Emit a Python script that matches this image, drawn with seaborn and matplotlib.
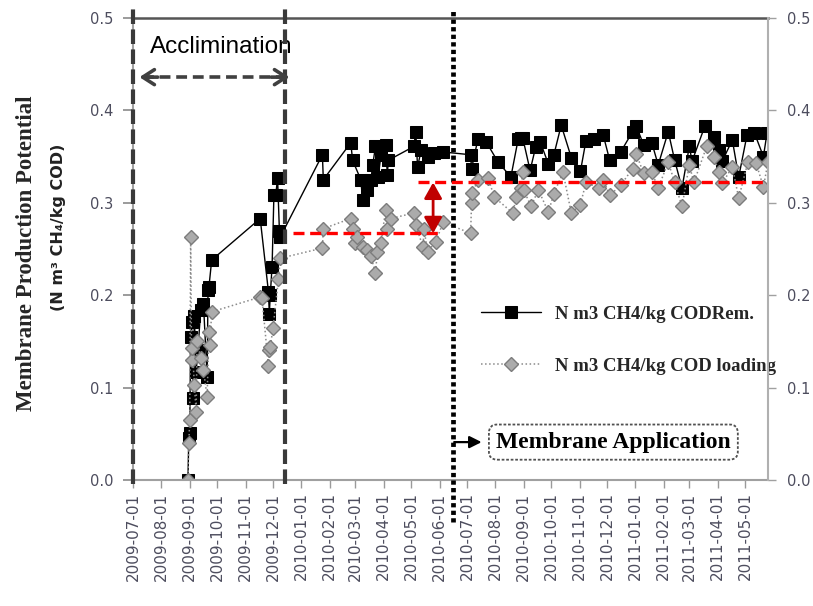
import matplotlib
matplotlib.use("Agg")
import matplotlib.pyplot as plt
import matplotlib.dates as mdates
import matplotlib.ticker as mticker
import pandas as pd
import seaborn as sns

# N m3 CH4 / kg COD removed (black squares)
rem_dates = [
    "2009-08-30", "2009-08-31", "2009-09-01", "2009-09-02", "2009-09-03", "2009-09-05",
    "2009-09-06", "2009-09-08", "2009-09-10", "2009-09-13", "2009-09-16", "2009-09-20",
    "2009-09-21", "2009-09-22", "2009-09-25", "2009-11-17", "2009-11-26", "2009-11-27",
    "2009-11-28", "2009-11-30", "2009-12-02", "2009-12-04", "2009-12-06", "2009-12-08",
    "2009-12-09", "2010-01-24", "2010-01-25", "2010-02-24", "2010-02-26", "2010-03-07",
    "2010-03-09", "2010-03-14", "2010-03-18", "2010-03-20", "2010-03-23", "2010-03-26",
    "2010-03-29", "2010-04-03", "2010-04-05", "2010-04-06", "2010-05-04", "2010-05-06",
    "2010-05-08", "2010-05-12", "2010-05-19", "2010-05-26", "2010-06-05", "2010-07-05",
    "2010-07-06", "2010-07-13", "2010-07-22", "2010-08-04", "2010-08-18", "2010-08-26",
    "2010-08-29", "2010-08-31", "2010-09-08", "2010-09-14", "2010-09-19", "2010-09-28",
    "2010-10-04", "2010-10-12", "2010-10-23", "2010-11-02", "2010-11-08", "2010-11-17",
    "2010-11-27", "2010-12-04", "2010-12-16", "2010-12-29", "2011-01-02", "2011-01-10",
    "2011-01-19", "2011-01-26", "2011-02-06", "2011-02-13", "2011-02-21", "2011-03-01",
    "2011-03-04", "2011-03-18", "2011-03-28", "2011-04-02", "2011-04-06", "2011-04-17",
    "2011-04-24", "2011-05-03", "2011-05-11", "2011-05-21", "2011-05-25",
]
rem_values = [
    0.000, 0.045, 0.051, 0.155, 0.171, 0.089,
    0.178, 0.117, 0.141, 0.184, 0.191, 0.112,
    0.206, 0.209, 0.238, 0.283, 0.204, 0.180,
    0.200, 0.231, 0.308, 0.308, 0.327, 0.270,
    0.263, 0.352, 0.325, 0.365, 0.346, 0.325,
    0.303, 0.314, 0.325, 0.341, 0.361, 0.328,
    0.352, 0.363, 0.330, 0.346, 0.361, 0.377,
    0.339, 0.357, 0.350, 0.354, 0.355, 0.352,
    0.337, 0.369, 0.366, 0.344, 0.328, 0.369,
    0.370, 0.370, 0.335, 0.360, 0.366, 0.342,
    0.352, 0.384, 0.349, 0.334, 0.367, 0.369,
    0.373, 0.346, 0.355, 0.377, 0.383, 0.363,
    0.365, 0.341, 0.377, 0.346, 0.316, 0.361,
    0.345, 0.383, 0.371, 0.357, 0.345, 0.368,
    0.328, 0.373, 0.376, 0.350, 0.376,
]

# N m3 CH4 / kg COD loading (grey diamonds)
load_dates = [
    "2009-08-30", "2009-08-31", "2009-09-01", "2009-09-02", "2009-09-03", "2009-09-04",
    "2009-09-06", "2009-09-08", "2009-09-09", "2009-09-13", "2009-09-16", "2009-09-20",
    "2009-09-22", "2009-09-23", "2009-09-25", "2009-11-17", "2009-11-19", "2009-11-26",
    "2009-11-27", "2009-11-28", "2009-12-01", "2009-12-07", "2009-12-09", "2010-01-24",
    "2010-01-25", "2010-02-24", "2010-02-26", "2010-03-01", "2010-03-03", "2010-03-09",
    "2010-03-14", "2010-03-18", "2010-03-23", "2010-03-25", "2010-03-29", "2010-04-03",
    "2010-04-05", "2010-04-09", "2010-05-04", "2010-05-06", "2010-05-14", "2010-05-15",
    "2010-05-19", "2010-05-28", "2010-06-05", "2010-07-05", "2010-07-06", "2010-07-07",
    "2010-07-13", "2010-07-24", "2010-07-31", "2010-08-20", "2010-08-24", "2010-08-29",
    "2010-08-31", "2010-09-01", "2010-09-09", "2010-09-17", "2010-09-28", "2010-10-04",
    "2010-10-14", "2010-10-23", "2010-11-02", "2010-11-08", "2010-11-22", "2010-11-27",
    "2010-12-04", "2010-12-16", "2010-12-29", "2011-01-02", "2011-01-10", "2011-01-19",
    "2011-01-26", "2011-02-06", "2011-02-13", "2011-02-21", "2011-03-01", "2011-03-06",
    "2011-03-20", "2011-03-28", "2011-04-02", "2011-04-06", "2011-04-17", "2011-04-24",
    "2011-05-04", "2011-05-13", "2011-05-21", "2011-05-26",
]
load_values = [
    0.000, 0.040, 0.065, 0.263, 0.130, 0.143,
    0.103, 0.074, 0.150, 0.132, 0.119, 0.090,
    0.160, 0.146, 0.182, 0.198, 0.197, 0.123,
    0.141, 0.144, 0.164, 0.218, 0.240, 0.251,
    0.272, 0.283, 0.272, 0.256, 0.263, 0.252,
    0.249, 0.242, 0.224, 0.247, 0.256, 0.292,
    0.272, 0.283, 0.289, 0.276, 0.252, 0.272,
    0.247, 0.258, 0.279, 0.267, 0.300, 0.311,
    0.325, 0.327, 0.306, 0.289, 0.306, 0.316,
    0.333, 0.314, 0.296, 0.314, 0.290, 0.310,
    0.333, 0.289, 0.298, 0.322, 0.316, 0.325,
    0.308, 0.319, 0.337, 0.353, 0.332, 0.333,
    0.316, 0.344, 0.322, 0.296, 0.341, 0.322,
    0.361, 0.350, 0.333, 0.321, 0.339, 0.305,
    0.344, 0.343, 0.317, 0.344,
]

rem_label = "N m3 CH4/kg CODRem."
load_label = "N m3 CH4/kg COD loading"
y_ticks = [0.0, 0.1, 0.2, 0.3, 0.4, 0.5]

# reference lines / annotations (dates and levels)
x_start, x_end = "2009-07-01", "2011-05-26"
acclim_start, acclim_end = "2009-07-01", "2009-12-14"
membrane_date = "2010-06-16"
before_level, after_level = 0.267, 0.322

d = pd.to_datetime
rem = pd.DataFrame({"date": d(rem_dates), "value": rem_values})
load = pd.DataFrame({"date": d(load_dates), "value": load_values})

sns.set_theme(style="white")
plt.rcParams["font.family"] = ["DejaVu Sans"]

fig = plt.figure(figsize=(8.13, 6.06), dpi=100)
ax = fig.add_axes([133 / 813, 126 / 606, 635 / 813, 462 / 606])

sns.lineplot(data=rem, x="date", y="value", ax=ax, estimator=None, sort=False,
             color="black", lw=1.0, marker="s", markersize=8.8,
             markerfacecolor="black", markeredgecolor="black", label=rem_label)
sns.lineplot(data=load, x="date", y="value", ax=ax, estimator=None, sort=False,
             color="#8a8a8a", lw=1.1, linestyle=":", marker="D", markersize=7.5,
             markerfacecolor="#ababab", markeredgecolor="#7c7c7c",
             markeredgewidth=1.0, label=load_label)

ax.set_xlim(d(x_start), d(x_end))
ax.set_ylim(0, 0.5)
ax.set_xlabel("")
ax.set_ylabel("")

# period markers
for xd in (acclim_start, acclim_end):
    ax.plot([d(xd), d(xd)], [-0.004, 0.512], color="#3a3a3a", lw=3.0,
            ls=(0, (3.5, 1.3)), clip_on=False, zorder=5)
ax.plot([d(membrane_date), d(membrane_date)], [-0.045, 0.508], color="black", lw=3.4,
        ls=(0, (0.9, 0.7)), clip_on=False, zorder=5, dash_capstyle="butt")

# average level lines
ax.plot([d("2009-12-23"), d("2010-06-05")], [before_level, before_level],
        color="#ff0000", lw=2.4, ls=(0, (3.3, 1.7)), zorder=6)
ax.plot([d("2010-05-08"), d("2011-05-25")], [after_level, after_level],
        color="#ff0000", lw=2.4, ls=(0, (3.3, 1.7)), zorder=6)
ax.annotate("", xy=(d("2010-05-25"), before_level), xytext=(d("2010-05-25"), after_level),
            arrowprops=dict(arrowstyle="<|-|>,head_length=0.8,head_width=0.45",
                            color="#c00000", lw=2.0, shrinkA=0, shrinkB=0), zorder=7)

# acclimination arrow
ax.plot([d("2009-07-12"), d("2009-12-14")], [0.436, 0.436], color="#404040", lw=2.6,
        ls=(0, (3.0, 1.6)), zorder=6)
ax.annotate("", xy=(d("2009-07-08"), 0.436), xytext=(d("2009-07-28"), 0.436),
            arrowprops=dict(arrowstyle="->,head_length=0.7,head_width=0.45", color="#404040",
                            lw=2.6, shrinkA=0, shrinkB=0), zorder=6)
ax.annotate("", xy=(d("2009-12-19"), 0.436), xytext=(d("2009-11-29"), 0.436),
            arrowprops=dict(arrowstyle="->,head_length=0.7,head_width=0.45", color="#404040",
                            lw=2.6, shrinkA=0, shrinkB=0), zorder=6)
ax.text(d("2009-10-06"), 0.469, "Acclimination", ha="center", va="center",
        fontsize=17.5, family="Liberation Sans", color="black")

# membrane application box
ax.text(d("2010-12-08"), 0.041, "Membrane Application", ha="center", va="center",
        fontsize=17, family="Liberation Serif", fontweight="bold", color="black",
        bbox=dict(boxstyle="round,pad=0.3,rounding_size=0.35", fc="white", ec="#505050",
                  lw=1.3, ls=(0, (1.5, 1.0))), zorder=6)
ax.annotate("", xy=(d("2010-07-17"), 0.041), xytext=(d("2010-06-17"), 0.041),
            arrowprops=dict(arrowstyle="-|>,head_length=0.6,head_width=0.3", color="black",
                            lw=1.6, shrinkA=0, shrinkB=0), zorder=6)

# axes styling
ax.xaxis.set_major_locator(mdates.MonthLocator())
ax.xaxis.set_major_formatter(mdates.DateFormatter("%Y-%m-%d"))
ax.set_yticks(y_ticks)
ax.yaxis.set_major_formatter(mticker.FormatStrFormatter("%.1f"))
tick_color = "#4d4d5e"
ax.tick_params(axis="x", which="major", direction="out", length=6, width=1.0,
               color="#9a9a9a", labelsize=11, labelcolor=tick_color, pad=3,
               labelrotation=90, bottom=True)
ax.tick_params(axis="y", which="major", direction="out", length=7, width=1.2,
               color="#8a8a8a", labelsize=10.5, labelcolor=tick_color, pad=7, left=True)
for name, sp in ax.spines.items():
    sp.set_color("#a0a0a0")
    sp.set_linewidth(1.5)
ax.spines["top"].set_color("#555555")
ax.spines["top"].set_linewidth(1.8)
ax.spines["right"].set_visible(False)

ax2 = ax.twinx()
ax2.set_ylim(0, 0.5)
ax2.set_yticks(y_ticks)
ax2.yaxis.set_major_formatter(mticker.FormatStrFormatter("%.1f"))
ax2.tick_params(axis="y", direction="out", length=6, width=1.0, color="#a0a0a0",
                labelsize=10.5, labelcolor=tick_color, pad=8, right=True)
ax2.grid(False)
for name, sp in ax2.spines.items():
    sp.set_visible(name == "right")
ax2.spines["right"].set_color("#b0b0b0")
ax2.spines["right"].set_linewidth(1.5)

leg = ax.legend(loc="upper left", bbox_to_anchor=(0.525, 0.41), frameon=True,
                facecolor="white", edgecolor="none", framealpha=1.0,
                prop=dict(family="Liberation Serif", weight="bold", size=13.5),
                handlelength=3.2, handletextpad=0.75, labelspacing=1.85, borderpad=0.3)
leg.set_zorder(8)

# y axis titles
fig.text(27 / 813, 1 - 253 / 606, "Membrane Production Potential", rotation=90,
         ha="center", va="center", fontsize=16.5, family="Liberation Serif",
         fontweight="bold")
fig.text(59 / 813, 1 - 227 / 606, "(N m\u00b3 CH\u2084/kg COD)", rotation=90,
         ha="center", va="center", fontsize=11.5, family="DejaVu Sans",
         fontweight="bold", color="#222222")

fig.savefig("out.png", dpi=100)
